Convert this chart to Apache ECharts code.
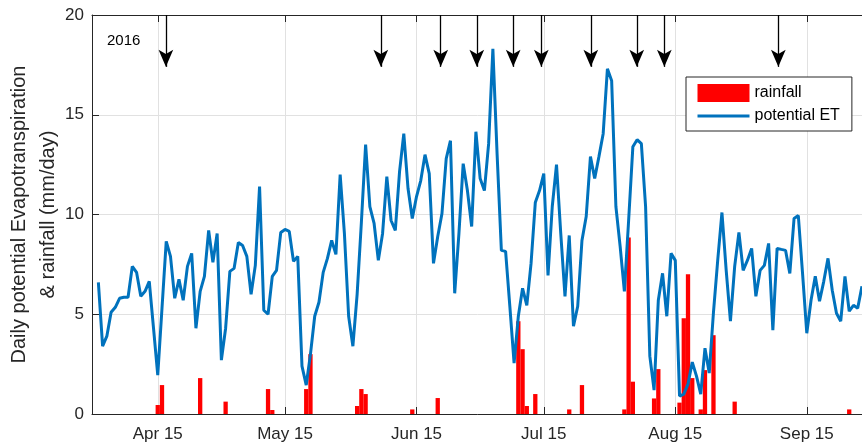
<!DOCTYPE html>
<html><head><meta charset="utf-8">
<script src="https://cdn.jsdelivr.net/npm/echarts@6/dist/echarts.min.js"></script>
<style>html,body{margin:0;padding:0;background:#fff}#c{width:862px;height:447px}</style>
</head><body><div id="c"></div>
<script>
// ---- data ----
const startDate = [2016, 4, 1]; // first daily value: 1 Apr 2016
const etValues = [
 6.6,3.4,3.9,5.1,5.35,5.8,5.85,5.85,7.4,7.1,5.9,6.15,6.65,4.3,1.95,5.3,8.65,7.9,5.8,6.75,
 5.7,7.4,8.05,4.3,6.15,6.9,9.2,7.6,9.05,2.7,4.3,7.15,7.3,8.6,8.45,7.9,6.0,7.45,11.4,5.2,
 5.0,6.9,7.2,9.1,9.25,9.15,7.65,7.9,2.4,1.45,3.0,4.9,5.6,7.1,7.8,8.7,8.0,12.0,9.05,4.9,
 3.4,6.0,9.6,13.5,10.4,9.55,7.7,9.05,11.9,9.7,9.2,12.15,14.05,11.3,9.8,10.9,11.7,13.0,12.05,7.55,
 8.9,10.05,12.8,13.7,6.05,9.05,12.55,11.2,9.4,14.15,11.8,11.2,13.55,18.3,13.0,8.2,8.15,5.4,2.55,4.9,
 6.3,5.45,7.55,10.6,11.2,12.05,6.95,10.4,12.5,9.05,5.9,8.95,4.4,5.4,8.7,9.9,12.9,11.8,12.9,14.05,
 17.3,16.7,10.4,8.4,6.15,9.7,13.4,13.75,13.55,10.4,2.9,1.2,5.7,7.05,4.9,8.05,7.7,0.9,1.0,1.5,
 2.6,1.9,1.0,3.3,2.05,5.1,7.7,10.1,7.2,4.65,7.4,9.1,7.2,7.7,8.3,5.9,7.2,7.45,8.55,4.2,
 8.3,8.25,8.2,7.05,9.8,9.95,7.05,4.05,5.7,6.9,5.65,6.65,7.8,6.2,5.05,4.65,6.9,5.15,5.45,5.3,
 6.4
];
const rainDates = ['2016-04-15','2016-04-16','2016-04-25','2016-05-01','2016-05-11','2016-05-12',
 '2016-05-20','2016-05-21','2016-06-01','2016-06-02','2016-06-03','2016-06-14','2016-06-20',
 '2016-07-09','2016-07-10','2016-07-11','2016-07-13','2016-07-21','2016-07-24','2016-08-03',
 '2016-08-04','2016-08-05','2016-08-10','2016-08-11','2016-08-16','2016-08-17','2016-08-18',
 '2016-08-19','2016-08-21','2016-08-22','2016-08-24','2016-08-29','2016-09-25'];
const rainValues = [0.45,1.45,1.8,0.62,1.25,0.2,
 1.25,3.0,0.4,1.25,1.0,0.23,0.8,
 4.65,3.25,0.4,1.0,0.23,1.45,0.23,
 8.85,1.62,0.78,2.25,0.57,4.8,7.0,
 1.8,0.23,2.2,3.95,0.62,0.23];
const arrowTimes = ['2016-04-16 22:00','2016-06-06 14:00','2016-06-20 17:00','2016-06-29 05:00',
 '2016-07-07 19:00','2016-07-14 10:00','2016-07-26 02:00','2016-08-05 22:00','2016-08-12 10:00',
 '2016-09-08 07:00'];
const tickDates = ['2016-04-15','2016-05-15','2016-06-15','2016-07-15','2016-08-15','2016-09-15'];
const yTicks = [0, 5, 10, 15, 20];
const seriesNames = ['rainfall', 'potential ET'];
const yearText = '2016';
const yTitle = 'Daily potential Evapotranspiration\n& rainfall (mm/day)';
const monthNames = ['Jan','Feb','Mar','Apr','May','Jun','Jul','Aug','Sep','Oct','Nov','Dec'];

// ---- helpers ----
function parseT(s) {
  const m = s.match(/(\d+)-(\d+)-(\d+)(?:[ T](\d+):(\d+))?/);
  return new Date(+m[1], +m[2] - 1, +m[3], m[4] ? +m[4] : 0, m[5] ? +m[5] : 0).getTime();
}
const etData = etValues.map((v, i) => [new Date(startDate[0], startDate[1] - 1, startDate[2] + i).getTime(), v]);
const rainData = rainDates.map((d, i) => [parseT(d), rainValues[i]]);
const tickTimes = tickDates.map(parseT);
const arrowData = arrowTimes.map(s => { const t = parseT(s); return [{coord: [t, 20]}, {coord: [t, 17.4]}]; });
const xMin = new Date(2016, 2, 30, 12).getTime();
const xMax = xMin + 183.4 * 86400000;
const FONT = '"Liberation Sans", Arial, Helvetica, sans-serif';
const AX = '#262626';

function xAxisCfg(pos, labels) {
  return {
    type: 'value', position: pos, min: xMin, max: xMax, scale: true,
    axisLine: {show: true, onZero: false, lineStyle: {color: AX, width: 1}},
    axisTick: {show: true, inside: true, length: 7, customValues: tickTimes, lineStyle: {color: AX}},
    axisLabel: labels ? {
      show: true, customValues: tickTimes, fontSize: 17, color: AX, fontFamily: FONT, margin: 12,
      formatter: v => { const d = new Date(v); return monthNames[d.getMonth()] + ' ' + d.getDate(); }
    } : {show: false},
    splitLine: {show: labels, lineStyle: {color: '#e1e1e1', width: 1}}
  };
}

const chart = echarts.init(document.getElementById('c'), null, {renderer: 'canvas'});
chart.setOption({
  animation: false,
  backgroundColor: '#fff',
  grid: {left: 92, top: 15, width: 778, height: 399, containLabel: false, outerBoundsMode: 'none'},
  xAxis: [xAxisCfg('bottom', true), xAxisCfg('top', false)],
  yAxis: {
    type: 'value', min: yTicks[0], max: yTicks[yTicks.length - 1], interval: 5,
    name: yTitle, nameLocation: 'middle', nameRotate: 90, nameGap: 29, nameMoveOverlap: false,
    nameTextStyle: {fontSize: 20, lineHeight: 29, color: AX, fontFamily: FONT, align: 'center'},
    axisLine: {show: true, lineStyle: {color: AX, width: 1}},
    axisTick: {show: true, inside: true, length: 7, lineStyle: {color: AX}},
    axisLabel: {fontSize: 17, color: AX, fontFamily: FONT, margin: 8},
    splitLine: {show: true, lineStyle: {color: '#e1e1e1', width: 1}}
  },
  legend: {
    orient: 'vertical', left: 686, top: 77,
    data: [
      {name: seriesNames[0], icon: 'rect'},
      {name: seriesNames[1], itemStyle: {color: 'rgba(0,0,0,0)', borderColor: 'rgba(0,0,0,0)', borderWidth: 0, opacity: 0},
       lineStyle: {color: '#0072BD', width: 3}}
    ],
    itemWidth: 52, itemHeight: 18, itemGap: 6,
    borderColor: '#262626', borderWidth: 1, backgroundColor: '#fff',
    padding: [7, 12, 7, 10],
    textStyle: {fontSize: 16, color: '#000', fontFamily: FONT}
  },
  graphic: [{
    type: 'text', left: 107, top: 33,
    style: {text: yearText, font: '15px ' + FONT, fill: '#000'}
  }],
  series: [
    {
      name: seriesNames[0], type: 'bar', xAxisIndex: 0, data: rainData,
      barWidth: 4.3, itemStyle: {color: '#ff0000'}, z: 2, silent: true
    },
    {
      name: seriesNames[1], type: 'line', xAxisIndex: 0, data: etData,
      symbol: 'none', lineStyle: {color: '#0072BD', width: 3}, itemStyle: {color: '#0072BD'},
      z: 3, silent: true,
      markLine: {
        silent: true, animation: false,
        symbol: ['none', 'arrow'], symbolSize: [11, 17],
        lineStyle: {color: '#000', width: 1.3, type: 'solid'},
        label: {show: false}, emphasis: {disabled: true},
        data: arrowData
      }
    }
  ]
});
</script>
</body></html>
